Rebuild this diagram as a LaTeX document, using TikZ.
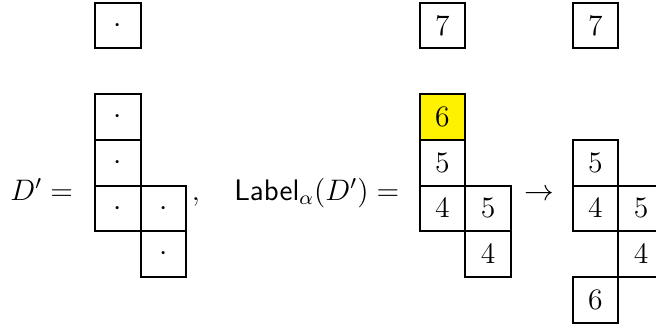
\documentclass[12pt,tikz,border=0pt]{standalone}
\usepackage{tikz}
\usepackage{color}
\usetikzlibrary{positioning}
\definecolor{hiyellow}{RGB}{255,242,0}

\begin{document}
\begin{tikzpicture}[x=6.5mm, y=6.5mm, node distance=0pt,
			cell/.style={rectangle, draw=black, thick, minimum size=6.5mm, inner sep=0pt, outer sep=0pt},
			hilite/.style={fill=hiyellow},
			eqtext/.style={inner sep=0pt}]
			\useasboundingbox (-2.08,-1.094) rectangle (12.275,6.061);
			% D'
			\node[cell] (a1) at (0.5,3.5) {$\cdot$};
			\node[cell] (a2) [below=of a1] {$\cdot$};
			\node[cell] (a3) [below=of a2] {$\cdot$};
			\node[cell] (a4) [right=of a3] {$\cdot$};
			\node[cell] (a5) [below=of a4] {$\cdot$};
			\node[cell] (a0) [above=6.5mm of a1] {$\cdot$};
			% Label
			\node[cell, hilite] (b1) at (7.6,3.5) {$6$};
			\node[cell] (b2) [below=of b1] {$5$};
			\node[cell] (b3) [below=of b2] {$4$};
			\node[cell] (b4) [right=of b3] {$5$};
			\node[cell] (b5) [below=of b4] {$4$};
			\node[cell] (b0) [above=6.5mm of b1] {$7$};
			% after the move
			\node[cell] (c1) at (10.95,2.5) {$5$};
			\node[cell] (c2) [below=of c1] {$4$};
			\node[cell] (c3) [right=of c2] {$5$};
			\node[cell] (c4) [below=of c3] {$4$};
			\node[cell] (c5) [below=6.5mm of c2] {$6$};
			\node[cell] (c0) [above=13mm of c1] {$7$};
			% equation
			\node[eqtext, anchor=base east] (lhs) at (-0.47,1.68) {$D' =$};
			\node[eqtext, anchor=base west] (comma) at (2.11,1.68) {$,$};
			\node[eqtext, anchor=base east] (lab) at (6.67,1.68) {$\mathsf{Label}_\alpha(D') =$};
			\node[eqtext, anchor=base] (arr) at (9.73,1.68) {$\to$};
		\end{tikzpicture}
\end{document}
